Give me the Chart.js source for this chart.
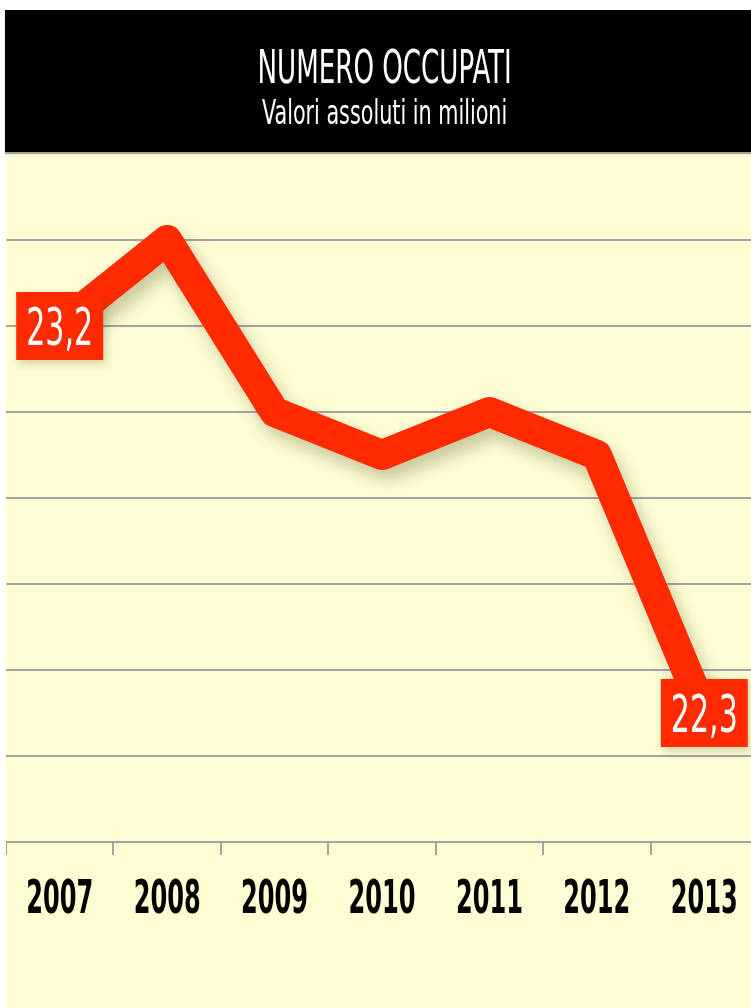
<!DOCTYPE html>
<html>
<head>
<meta charset="utf-8">
<script src="https://cdn.jsdelivr.net/npm/chart.js@4.4.1/dist/chart.umd.min.js"></script>
<style>
  html, body { margin: 0; padding: 0; width: 751px; height: 1008px; overflow: hidden; background: #fff; }
  #testata {
    position: absolute; left: 5px; top: 10px; width: 746px; height: 142px;
    background: #000; color: #fff; text-align: center; z-index: 2;
    box-shadow: 0 2px 1px rgba(0,0,0,0.35);
    font-family: "Liberation Sans Narrow", "DejaVu Sans Condensed", "Liberation Sans", sans-serif;
  }
  #testata div { position: absolute; left: 7px; width: 100%; }
  #testata span { display: inline-block; white-space: nowrap; }
  #titolo { top: 33px; font-size: 47px; line-height: 47px; }
  #sottotitolo { top: 86px; font-size: 33px; line-height: 33px; }
  #sfondo {
    position: absolute; left: 6px; top: 152px; width: 745px; height: 856px;
    background: rgb(254, 252, 210); overflow: hidden;
  }
  #grafico { position: absolute; left: 0; top: 0; }
</style>
</head>
<body>
<div id="testata">
  <div id="titolo"><span>NUMERO OCCUPATI</span></div>
  <div id="sottotitolo"><span>Valori assoluti in milioni</span></div>
</div>
<div id="sfondo">
  <canvas id="grafico" width="752" height="856"></canvas>
</div>
<script>
// dati (milioni di occupati)
const anni = ['2007', '2008', '2009', '2010', '2011', '2012', '2013'];
const occupati = [23.2, 23.4, 23.0, 22.9, 23.0, 22.9, 22.3];
const etichette = ['23,2', '', '', '', '', '', '22,3'];
const asseMin = 22.0;
const asseMax = 23.6;
const passo = 0.2;

const rosso = '#ff2a00';
const grigio = '#a3a3a3';
const fontStretto = '"Liberation Sans Narrow", "DejaVu Sans Condensed", "Liberation Sans", sans-serif';

// il carattere originale è molto stretto: comprimo in orizzontale fino alla larghezza voluta
function stringi(el, larghezza) {
  el.style.transform = 'scaleX(' + (larghezza / el.offsetWidth) + ')';
}
stringi(document.querySelector('#titolo span'), 254);
stringi(document.querySelector('#sottotitolo span'), 245);

// ombra morbida sotto la linea
const ombraLinea = {
  id: 'ombraLinea',
  beforeDatasetDraw(chart) {
    const ctx = chart.ctx;
    ctx.save();
    ctx.shadowColor = 'rgba(70, 70, 20, 0.28)';
    ctx.shadowBlur = 16;
    ctx.shadowOffsetX = 6;
    ctx.shadowOffsetY = 10;
  },
  afterDatasetDraw(chart) {
    chart.ctx.restore();
  }
};

// riquadri rossi con il valore al primo e all'ultimo anno
const riquadriValori = {
  id: 'riquadriValori',
  afterDatasetsDraw(chart) {
    const ctx = chart.ctx;
    const meta = chart.getDatasetMeta(0);
    ctx.font = '51px ' + fontStretto;
    const scala = 67 / ctx.measureText('23,2').width;
    for (let i = 0; i < etichette.length; i++) {
      if (!etichette[i]) continue;
      const p = meta.data[i];
      ctx.save();
      ctx.shadowColor = 'rgba(70, 70, 20, 0.22)';
      ctx.shadowBlur = 8;
      ctx.shadowOffsetX = 3;
      ctx.shadowOffsetY = 4;
      ctx.fillStyle = rosso;
      ctx.fillRect(p.x - 43.5, p.y - 34, 87, 68);
      ctx.restore();

      ctx.save();
      ctx.translate(p.x, p.y + 19);
      ctx.scale(scala, 1);
      ctx.fillStyle = '#fff';
      ctx.font = '51px ' + fontStretto;
      ctx.textAlign = 'center';
      ctx.textBaseline = 'alphabetic';
      ctx.fillText(etichette[i], 0, 0);
      ctx.restore();
    }
  }
};

// anni sotto l'asse, in carattere stretto
const etichetteAnni = {
  id: 'etichetteAnni',
  afterDraw(chart) {
    const ctx = chart.ctx;
    const sx = chart.scales.x;
    ctx.font = 'bold 46px ' + fontStretto;
    const scala = 67 / ctx.measureText('2007').width;
    for (let i = 0; i < anni.length; i++) {
      ctx.save();
      ctx.translate(sx.getPixelForValue(i), sx.top + 71);
      ctx.scale(scala, 1);
      ctx.fillStyle = '#000';
      ctx.font = 'bold 46px ' + fontStretto;
      ctx.textAlign = 'center';
      ctx.textBaseline = 'alphabetic';
      ctx.fillText(anni[i], 0, 0);
      ctx.restore();
    }
  }
};

new Chart(document.getElementById('grafico'), {
  type: 'line',
  data: {
    labels: anni,
    datasets: [{
      label: 'Occupati',
      data: occupati,
      borderColor: rosso,
      borderWidth: 30,
      borderJoinStyle: 'round',
      pointRadius: 0,
      tension: 0,
      fill: false
    }]
  },
  options: {
    responsive: false,
    devicePixelRatio: 1,
    animation: false,
    layout: { padding: { top: 2, left: 0, right: 0, bottom: 0 } },
    plugins: {
      legend: { display: false },
      tooltip: { enabled: false }
    },
    scales: {
      x: {
        offset: true,
        grid: {
          offset: true,
          drawOnChartArea: false,
          drawTicks: true,
          tickLength: 13,
          color: grigio,
          lineWidth: 2
        },
        border: { color: grigio, width: 2 },
        ticks: { display: false },
        afterFit: function (s) { s.height = 166; }
      },
      y: {
        min: asseMin,
        max: asseMax,
        ticks: { display: false, stepSize: passo },
        grid: {
          color: function (c) { return c.tick.value > asseMax - passo / 2 ? 'rgba(0,0,0,0)' : grigio; },
          lineWidth: 2,
          drawTicks: false
        },
        border: { display: false },
        afterFit: function (s) { s.width = 0; }
      }
    }
  },
  plugins: [ombraLinea, riquadriValori, etichetteAnni]
});
</script>
</body>
</html>
